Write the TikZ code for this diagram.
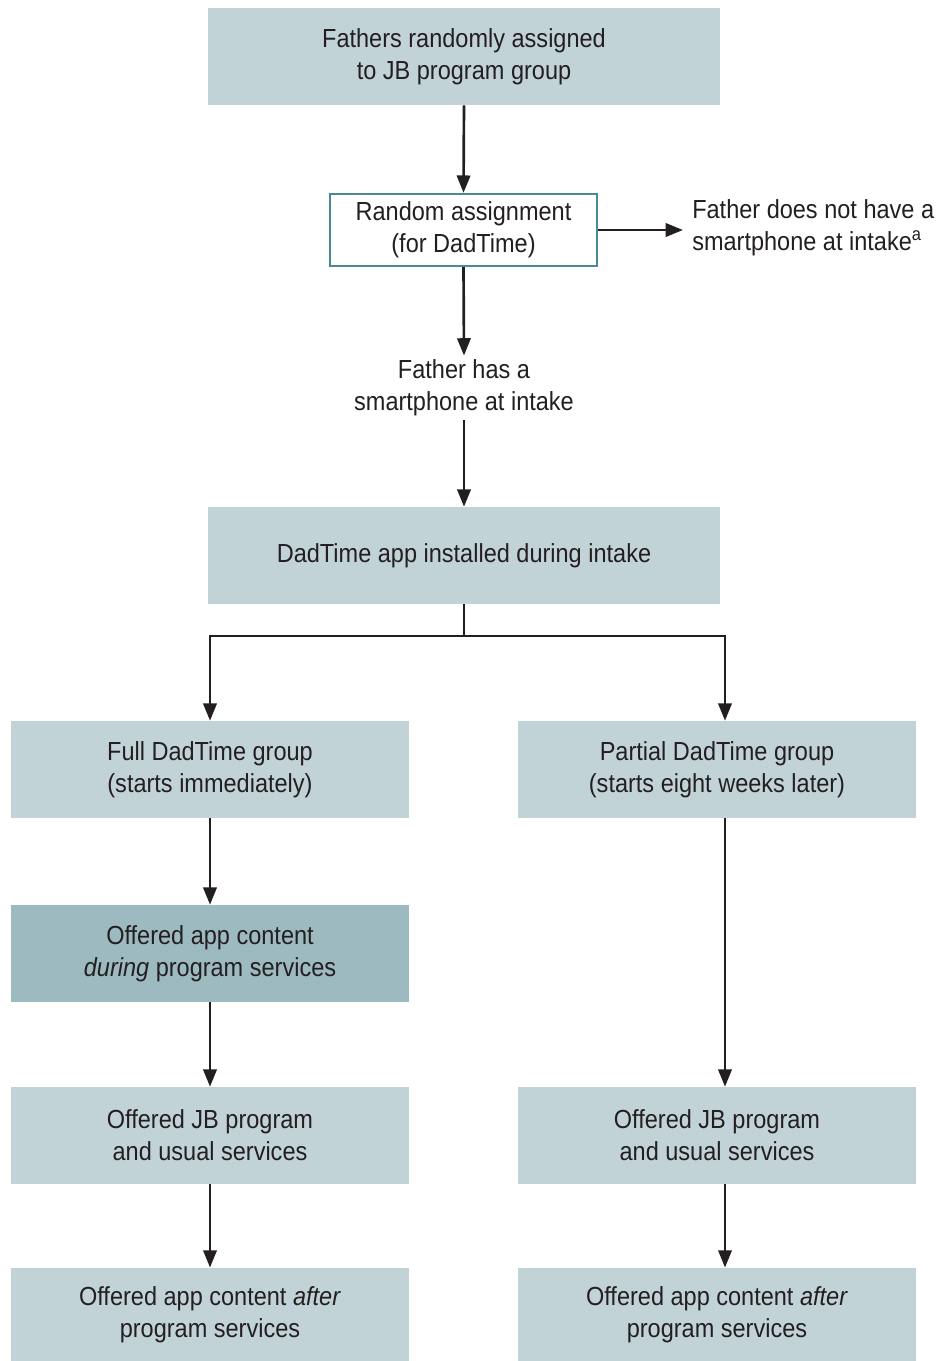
\documentclass[tikz,border=0pt]{standalone}
\usepackage{fontspec}
\setmainfont[FakeStretch=0.9]{Liberation Sans}
\usetikzlibrary{arrows.meta,calc}
\definecolor{boxlight}{HTML}{C2D3D7}
\definecolor{boxdark}{HTML}{9DBAC0}
\definecolor{tealedge}{HTML}{4A8A94}
\definecolor{ink}{HTML}{231F20}
\begin{document}
\begin{tikzpicture}[x=0.75pt,y=-0.75pt,
  every node/.style={font=\fontsize{19.6pt}{24pt}\selectfont, text=ink, align=center},
  lbox/.style={fill=boxlight, draw=none, inner sep=0pt},
  dbox/.style={fill=boxdark, draw=none, inner sep=0pt},
  wide/.style={minimum width=384pt, minimum height=72.75pt},
  col/.style={minimum width=298.5pt, minimum height=72.75pt},
  rbox/.style={fill=white, draw=tealedge, line width=1.8pt, minimum width=200pt, minimum height=54pt, inner sep=0pt},
  plain/.style={inner sep=0pt},
  arr/.style={draw=ink, line width=2pt, -{Triangle[length=13pt,width=10pt]}},
  ln/.style={draw=ink, line width=2pt}
]
\useasboundingbox (0,0) rectangle (937,1361);
\node[lbox,wide] (b1) at (464,56.5) {Fathers randomly assigned\\to JB program group};
\node[rbox] (b2) at (463.5,230) {Random assignment\\(for DadTime)};
\node[plain, anchor=west, align=left] (no) at (692,228) {Father does not have a\\smartphone at intake\textsuperscript{a}};
\node[plain] (yes) at (464,388) {Father has a\\smartphone at intake};
\node[lbox,wide] (b3) at (464,555.5) {DadTime app installed during intake};
\node[lbox,col] (l1) at (210,769.5) {Full DadTime group\\(starts immediately)};
\node[lbox,col] (r1) at (717,769.5) {Partial DadTime group\\(starts eight weeks later)};
\node[dbox,col] (l2) at (210,953.5) {Offered app content\\\textit{during} program services};
\node[lbox,col] (l3) at (210,1135.5) {Offered JB program\\and usual services};
\node[lbox,col] (r3) at (717,1135.5) {Offered JB program\\and usual services};
\node[lbox,col,minimum height=70pt] (l4) at (210,1314.5) {Offered app content \textit{after}\\program services};
\node[lbox,col,minimum height=70pt] (r4) at (717,1314.5) {Offered app content \textit{after}\\program services};
\coordinate (rc) at (725,0);
\coordinate (mid) at (464,636);
% connectors
\draw[arr] (b1.south) -- (b2.north);
\draw[arr] (b2.east) -- ($(no.west)+(-9,2)$);
\draw[arr] (b2.south) -- ($(yes.north)+(0,-4)$);
\draw[arr] ($(yes.south)+(0,4)$) -- (b3.north);
\draw[ln] (b3.south) -- (mid);
\draw[arr] (mid) -| (l1.north);
\draw[arr] (mid) -| (r1.north -| rc);
\draw[arr] (l1.south) -- (l2.north);
\draw[arr] (l2.south) -- (l3.north);
\draw[arr] (l3.south) -- (l4.north);
\draw[arr] (r1.south -| rc) -- (r3.north -| rc);
\draw[arr] (r3.south -| rc) -- (r4.north -| rc);
\end{tikzpicture}
\end{document}
